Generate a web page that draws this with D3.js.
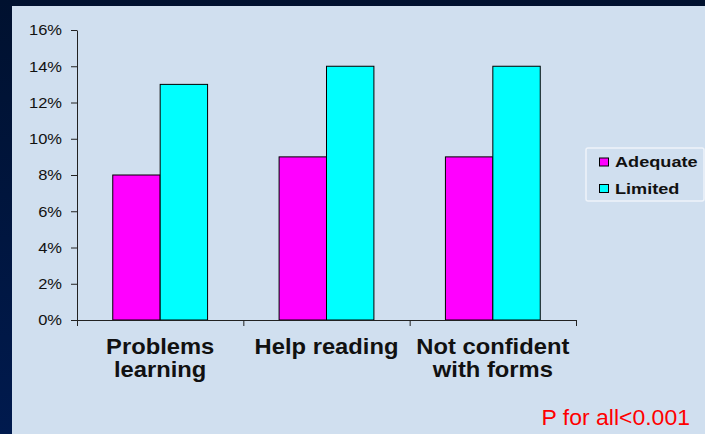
<!DOCTYPE html>
<html>
<head>
<meta charset="utf-8">
<script src="https://cdn.jsdelivr.net/npm/d3@7"></script>
<style>
  html, body { margin: 0; padding: 0; background: #001233; }
  svg { display: block; font-family: "Liberation Sans", Arial, sans-serif; }
</style>
</head>
<body>
<svg id="chart" width="705" height="434"></svg>
<script>
// Survey results by health-literacy level
const categories = [["Problems", "learning"], ["Help reading"], ["Not confident", "with forms"]];
const seriesNames = ["Adequate", "Limited"];
const adequate = [0.08, 0.09, 0.09];
const limited = [0.13, 0.14, 0.14];
const yTicks = [0, 0.02, 0.04, 0.06, 0.08, 0.10, 0.12, 0.14, 0.16];
const colors = ["#ff00ff", "#00ffff"];
const note = "P for all<0.001";

const svg = d3.select("#chart");
const W = 705, H = 434;

// slide background: dark frame with a light panel
const defs = svg.append("defs");
const grad = defs.append("linearGradient").attr("id", "frame").attr("x1", 0).attr("y1", 0).attr("x2", 0).attr("y2", 1);
grad.append("stop").attr("offset", "0%").attr("stop-color", "#00112f");
grad.append("stop").attr("offset", "100%").attr("stop-color", "#001a4e");
svg.append("rect").attr("width", W).attr("height", H).attr("fill", "url(#frame)");
svg.append("rect").attr("x", 12).attr("y", 6).attr("width", W - 12).attr("height", H - 6).attr("fill", "#d0dfef");

const plot = { left: 77, right: 576, top: 30, bottom: 320 };

const keys = categories.map((c, i) => i);
const x = d3.scaleBand().domain(keys).range([plot.left, plot.right]).padding(0);
const inner = d3.scaleBand().domain(seriesNames)
  .range([x.bandwidth() * 0.215, x.bandwidth() * 0.785]).padding(0);
const y = d3.scaleLinear().domain([0, 0.16]).range([plot.bottom, plot.top]);

// stretch a text element horizontally around its anchor point
function stretch(sel, k) {
  sel.each(function () {
    const t = d3.select(this);
    const tx = +t.attr("x") || 0;
    t.attr("x", 0).attr("transform", `translate(${tx},0) scale(${k},1)`);
  });
}

// bars
const rows = keys.map(i => [adequate[i], limited[i]]);
const groups = svg.append("g").selectAll("g").data(rows).join("g")
  .attr("transform", (d, i) => `translate(${x(i)},0)`);
groups.selectAll("rect").data(d => d.map((v, j) => ({ v, s: seriesNames[j], j })))
  .join("rect")
  .attr("x", d => inner(d.s))
  .attr("y", d => y(d.v))
  .attr("width", inner.bandwidth())
  .attr("height", d => y(0) - y(d.v))
  .attr("fill", d => colors[d.j])
  .attr("stroke", "#000")
  .attr("stroke-width", 1);

// y axis
const yAxis = svg.append("g").attr("transform", `translate(${plot.left},0)`)
  .call(d3.axisLeft(y).tickValues(yTicks).tickFormat(d3.format(".0%")).tickSize(6).tickSizeOuter(0).tickPadding(9));
yAxis.select(".domain").attr("stroke", "#222");
yAxis.selectAll(".tick line").attr("stroke", "#222");
yAxis.selectAll(".tick text").attr("font-size", 15).attr("fill", "#111")
  .attr("font-family", "Liberation Sans, Arial, sans-serif").call(stretch, 1.1);

// x axis with ticks at category boundaries
const xb = d3.scaleLinear().domain([0, categories.length]).range([plot.left, plot.right]);
const xAxis = svg.append("g").attr("transform", `translate(0,${plot.bottom})`)
  .call(d3.axisBottom(xb).tickValues(d3.range(categories.length + 1)).tickFormat("").tickSize(6).tickSizeOuter(0));
xAxis.select(".domain").attr("stroke", "#222");
xAxis.selectAll(".tick line").attr("stroke", "#222");

// category labels
const labels = svg.append("g").selectAll("text").data(categories).join("text")
  .attr("text-anchor", "middle")
  .attr("font-size", 22)
  .attr("font-weight", "bold")
  .attr("fill", "#111")
  .attr("transform", (d, i) => `translate(${x(i) + x.bandwidth() / 2},354) scale(1.08,1)`);
labels.selectAll("tspan").data(d => d).join("tspan")
  .attr("x", 0)
  .attr("dy", (d, k) => k === 0 ? 0 : 23.5)
  .text(d => d);

// legend
const legend = svg.append("g").attr("transform", "translate(586,148)");
legend.append("rect").attr("width", 118).attr("height", 53).attr("rx", 2)
  .attr("fill", "#d0dfef").attr("stroke", "#eef3fa").attr("stroke-width", 1.5);
seriesNames.forEach((s, j) => {
  const g = legend.append("g").attr("transform", `translate(0,${j * 26.5})`);
  g.append("rect").attr("x", 13.5).attr("y", 10).attr("width", 9).attr("height", 8)
    .attr("fill", colors[j]).attr("stroke", "#000").attr("stroke-width", 1);
  g.append("text").attr("x", 0).attr("y", 19.3)
    .attr("transform", "translate(29,0) scale(1.17,1)")
    .attr("font-size", 15.5).attr("font-weight", "bold").attr("fill", "#111").text(s);
});

// significance note
svg.append("text")
  .attr("transform", "translate(541.5,425) scale(1.045,1)")
  .attr("font-size", 22).attr("fill", "#ff0000").text(note);
</script>
</body>
</html>
